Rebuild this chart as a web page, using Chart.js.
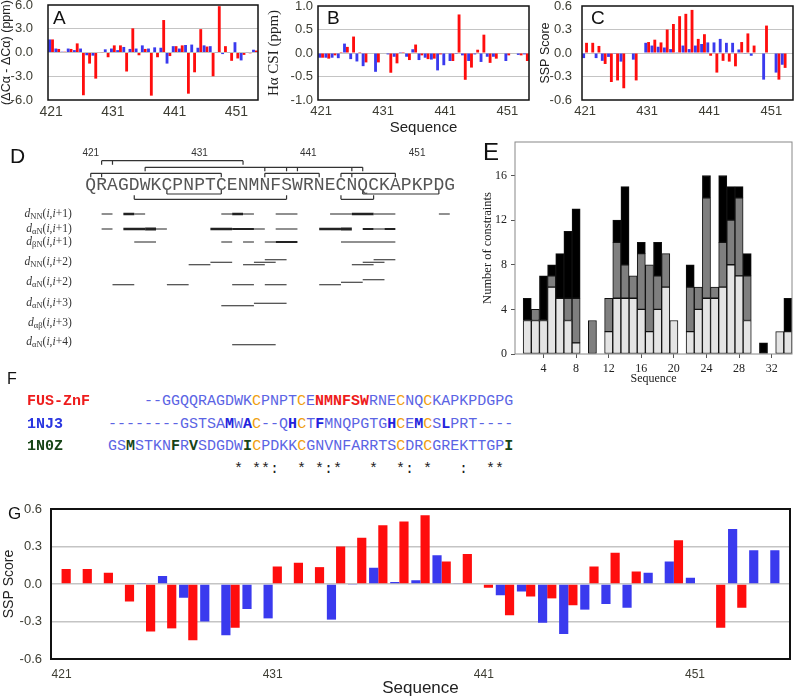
<!DOCTYPE html>
<html>
<head>
<meta charset="utf-8">
<script src="https://cdn.jsdelivr.net/npm/chart.js@4.4.0/dist/chart.umd.min.js"></script>
<style>
body { margin: 0; background: #fff; }
#page { position: relative; width: 795px; height: 699px; overflow: hidden; font-family: Arial, "Liberation Sans", sans-serif; }
canvas { position: absolute; }
.tag { position: absolute; color: #111; line-height: 1; }
.aln { position: absolute; margin: 0; font: 15px "Liberation Mono", "Courier New", monospace; line-height: 22.7px; white-space: pre; }
.seq { color: #5b64e4; }
.c { color: #f0a010; }
.r { color: #ee1c1c; font-weight: bold; }
.b { color: #2222dd; font-weight: bold; }
.g { color: #174417; font-weight: bold; }
</style>
</head>
<body>
<div id="page">
  <canvas id="cA" width="262" height="140" style="left:0;top:0"></canvas>
  <canvas id="cB" width="268" height="140" style="left:265px;top:0"></canvas>
  <canvas id="cC" width="260" height="140" style="left:535px;top:0"></canvas>
  <canvas id="cD" width="480" height="215" style="left:0;top:140px"></canvas>
  <canvas id="cE" width="315" height="260" style="left:480px;top:130px"></canvas>
  <canvas id="cG" width="795" height="199" style="left:0;top:500px"></canvas>

  <div class="tag" style="left:53px;top:8px;font-size:19px">A</div>
  <div class="tag" style="left:327px;top:8px;font-size:19px">B</div>
  <div class="tag" style="left:591px;top:8px;font-size:19px">C</div>
  <div class="tag" style="left:10px;top:145px;font-size:21px">D</div>
  <div class="tag" style="left:483px;top:140px;font-size:24px">E</div>
  <div class="tag" style="left:7px;top:371px;font-size:16px">F</div>
  <div class="tag" style="left:8px;top:505px;font-size:17px">G</div>

<pre class="aln" style="left:27px;top:391px;font-weight:bold"><span style="color:#ee1c1c">FUS-ZnF</span>
<span style="color:#2a36e0">1NJ3</span>
<span style="color:#174417">1N0Z</span></pre>
<pre class="aln seq" style="left:108px;top:391px">    --GGQQRAGDWK<span class="c">C</span>PNPT<span class="c">C</span>E<span class="r">NMNFSW</span>RNE<span class="c">C</span>NQ<span class="c">C</span>KAPKPDGPG
--------GSTSA<span class="b">M</span>W<span class="b">A</span><span class="c">C</span>--Q<span class="b">H</span><span class="c">C</span>T<span class="b">F</span>MNQPGTG<span class="b">H</span><span class="c">C</span>E<span class="b">M</span><span class="c">C</span>S<span class="b">L</span>PRT----
GS<span class="g">M</span>STKN<span class="g">F</span>R<span class="g">V</span>SDGDW<span class="g">I</span><span class="c">C</span>PDKK<span class="c">C</span>GNVNFARRTS<span class="c">C</span>DR<span class="c">C</span>GREKTTGP<span class="g">I</span>
<span style="color:#222">              * **:  * *:*   *  *: *   :  **</span></pre>
</div>

<script>
// residues
var RES_G = Array.from({ length: 35 }, function (_, i) { return String(421 + i); });
var RES_34 = RES_G.slice(0, 34);

// A: secondary CA shifts
var A_BLUE = [1.65, 0.5, 0.1, 0.5, 0.3, 0.5, -0.35, -0.4, 0.0, 0.4, 0.5, 0.3, 0.7, 0.45, 0.5, 0.9, 0.5, 0.65, 0.6, -1.4, 0.8, 0.5, 0.95, 1.0, 0.6, 0.9, 0.8, -0.05, -0.2, 0.05, 1.3, -1.0, 0.05, 0.35];
var A_RED = [1.65, 0.45, 0.1, 0.45, 1.15, -5.4, -1.4, -3.3, -0.05, -0.6, 0.9, 0.9, -2.4, 3.05, -0.35, 0.45, -5.45, -0.6, 4.1, -0.45, 0.8, 0.9, -5.2, -2.5, 2.95, 0.75, -3.0, 5.85, 0.8, -1.05, -0.75, -0.3, -0.1, 0.25];

// B: H alpha CSI
var B_BLUE = [-0.1, -0.1, -0.1, -0.11, 0.2, -0.13, -0.18, -0.28, null, -0.4, null, -0.03, -0.08, 0.02, -0.08, 0.08, -0.15, -0.1, -0.14, -0.37, -0.26, -0.17, -0.02, -0.05, -0.17, -0.03, -0.19, -0.08, -0.08, null, -0.17, null, -0.04, -0.03];
var B_RED = [-0.1, -0.12, -0.05, 0.02, 0.13, 0.35, 0.02, -0.2, null, -0.2, null, -0.42, -0.22, 0.02, -0.15, 0.18, -0.05, -0.13, -0.12, -0.03, null, -0.17, 0.82, -0.57, -0.31, 0.07, 0.39, -0.21, -0.12, null, -0.05, null, -0.05, -0.17];

// C: SSP score (small)
var C_BLUE = [-0.065, null, -0.065, -0.1, -0.05, -0.01, -0.11, null, -0.085, null, 0.13, 0.095, 0.08, 0.07, 0.05, 0.01, 0.095, 0.05, 0.095, 0.115, 0.135, 0.135, 0.18, 0.13, 0.13, 0.045, -0.01, -0.035, null, -0.34, null, -0.25, -0.15, null];
var C_RED = [0.13, 0.13, 0.09, -0.14, -0.37, -0.35, -0.45, null, -0.35, null, 0.14, 0.17, 0.135, 0.30, 0.37, 0.47, 0.50, 0.55, 0.18, 0.24, -0.035, -0.25, -0.10, -0.11, -0.17, 0.14, 0.25, 0.095, null, 0.35, null, -0.34, -0.19, null];

// G: SSP score (large)
var G_BLUE = [null, null, null, null, 0.004, 0.064, -0.11, -0.30, -0.41, -0.20, -0.275, null, null, -0.285, -0.004, 0.13, 0.016, 0.03, 0.23, 0.005, null, -0.09, -0.06, -0.31, -0.40, -0.205, -0.16, -0.19, 0.09, 0.18, 0.05, null, 0.44, 0.27, 0.27];
var G_RED = [0.12, 0.12, 0.09, -0.14, -0.38, -0.355, -0.45, null, -0.35, null, 0.14, 0.17, 0.135, 0.30, 0.37, 0.47, 0.50, 0.55, 0.18, 0.24, -0.03, -0.25, -0.10, -0.115, -0.17, 0.14, 0.25, 0.10, null, 0.35, null, -0.35, -0.19, null, null];

// E: constraints per residue
var E_POS = Array.from({ length: 34 }, function (_, i) { return String(i + 1); });
var E_LIGHT = [0, 3, 3, 3, 6, 5, 3, 1, 0, 0, 0, 2, 5, 5, 5, 4, 2, 4, 6, 3, 0, 2, 4, 5, 5, 6, 8, 7, 3, 0, 0, 0, 2, 2];
var E_GREY = [0, 0, 1, 0, 1, 0, 2, 4, 0, 3, 0, 3, 5, 3, 2, 5, 6, 3, 3, 0, 0, 4, 2, 9, 1, 4, 4, 7, 4, 0, 0, 0, 0, 0];
var E_BLACK = [0, 2, 0, 4, 1, 4, 6, 8, 0, 0, 0, 0, 2, 7, 0, 1, 0, 3, 0, 0, 0, 2, 0, 2, 0, 6, 3, 1, 2, 0, 1, 0, 0, 3];

// D: NOE connectivity diagram
var D_SEQ = 'QRAGDWKCPNPTCENMNFSWRNECNQCKAPKPDG';
var D_START = 421;
var D_NUMS = [421, 431, 441, 451];
var D_UP = [
    { level: 1, res: [422, 423, 435] },
    { level: 2, res: [426, 437, 439, 440, 445, 446] },
    { level: 3, res: [421, 422, 433] },
    { level: 3, res: [437, 442] },
    { level: 3, res: [444, 445, 449] }
];
var D_DOWN = [
    { level: 1, res: [428, 433] },
    { level: 1, res: [446, 453] },
    { level: 2, res: [425, 439] },
    { level: 2, res: [444, 447] }
];
var D_ROW_NAMES = [['NN', '+1'], ['\u03b1N', '+1'], ['\u03b2N', '+1'], ['NN', '+2'], ['\u03b1N', '+2'], ['\u03b1N', '+3'], ['\u03b1\u03b2', '+3'], ['\u03b1N', '+4']];
// [from, to, weight, tier]
var D_SEGS = [
    [[422, 423, 1], [424, 425, 2], [425, 426, 1], [433, 434, 1], [434, 435, 2], [435, 436, 1], [438, 440, 1], [443, 445, 1], [445, 447, 2], [447, 449, 1], [453, 454, 1]],
    [[422, 423, 1], [424, 426, 2], [426, 427, 3], [427, 428, 1], [432, 434, 2], [434, 436, 1.5], [436, 437, 1], [438, 440, 1], [442, 444, 2], [444, 445, 3], [446, 447, 1.5], [447, 448, 1], [448, 449, 1.5]],
    [[425, 427, 1], [433, 434, 1], [435, 436, 1], [437, 438, 1], [438, 440, 1.5], [444, 449, 1]],
    [[430, 432, 1, 0], [432, 434, 1, 1], [435, 437, 1, 0], [436, 438, 1, 1], [437, 439, 1, 2], [445, 447, 1, 0], [446, 448, 1, 1], [447, 449, 1, 2]],
    [[423, 425, 1, 0], [428, 430, 1, 0], [434, 436, 1, 0], [437, 439, 1, 0], [442, 444, 1, 0], [444, 446, 1, 1], [446, 448, 1, 2]],
    [[433, 436, 1, 0], [436, 439, 1, 1]],
    [],
    [[434, 438, 1, 0]]
];
// vertical tracks of the diagram (abstract units)
var D_TRACK = { nums: 2.6, seq: 10.0, up: [4.14, 5.46, 6.66], down: [10.8, 11.86], tick: 0.8,
    rows: [14.8, 17.8, 20.4, 24.4, 28.4, 32.6, 36.6, 40.4], tierBase: 0.55, tierStep: 0.5 };
var LINE_W = { 1: 1.2, 1.5: 1.8, 2: 2.4, 3: 3.2 };

var SANS = 'Arial, "Liberation Sans", sans-serif';
var SERIF = '"Liberation Serif", "Times New Roman", serif';
var TICK_C = '#3d3d33';
var GRID_C = '#c4c4c4';
var BLUE_C = '#3a3aee';
var RED_C = '#ff0d0d';

Chart.defaults.font.family = SANS;
Chart.defaults.color = '#333';

function frame(color, width)
{
    return {
        id: 'frame',
        afterDraw: function(chart) {
            var a = chart.chartArea;
            var ctx = chart.ctx;
            ctx.save();
            ctx.strokeStyle = color;
            ctx.lineWidth = width;
            ctx.strokeRect(a.left, a.top, a.right - a.left, a.bottom - a.top);
            ctx.restore();
        }
    };
}

function fixHeight(h)
{
    return function(s) { s.height = h; s.paddingLeft = 0; s.paddingRight = 0; };
}

function fixWidth(w)
{
    return function(s) { s.width = w; s.paddingTop = 0; s.paddingBottom = 0; };
}

function printSsp(id, o)
{
    new Chart(document.getElementById(id), {
        type: 'bar',
        data: {
            labels: o.labels,
            datasets: [
                { data: o.blue, backgroundColor: BLUE_C, barPercentage: 1, categoryPercentage: o.cat },
                { data: o.red, backgroundColor: RED_C, barPercentage: 1, categoryPercentage: o.cat }
            ]
        },
        options: {
            responsive: false,
            animation: false,
            devicePixelRatio: 1,
            events: [],
            layout: { padding: o.pad },
            plugins: { legend: { display: false }, tooltip: { enabled: false } },
            scales: {
                x: {
                    grid: { display: false, drawTicks: false },
                    border: { display: false },
                    ticks: {
                        autoSkip: false, maxRotation: 0, padding: o.xpad, color: TICK_C,
                        font: { size: o.xfont },
                        callback: function(v, i) { return i % 10 === 0 ? this.getLabelForValue(v) : ''; }
                    },
                    title: o.xtitle ? {
                        display: true, text: 'Sequence', color: '#222',
                        font: { size: o.xtitle.size, lineHeight: 1 },
                        padding: { top: 0, bottom: o.xtitle.pad }
                    } : { display: false },
                    afterFit: fixHeight(o.xh)
                },
                y: {
                    min: o.min,
                    max: o.max,
                    ticks: {
                        stepSize: o.step, padding: o.ypad, color: TICK_C, font: { size: 13 },
                        callback: function(v) { return v.toFixed(1); }
                    },
                    grid: {
                        drawTicks: false,
                        lineWidth: o.gridW,
                        color: function(c) {
                            if (c.tick && Math.abs(Math.abs(c.tick.value) - o.max) < 1e-9) return 'rgba(0,0,0,0)';
                            return GRID_C;
                        }
                    },
                    border: { display: false },
                    title: {
                        display: true, text: o.ytitle.text, color: '#222',
                        font: o.ytitle.font,
                        padding: { top: o.ytitle.pad, bottom: 0 }
                    },
                    afterFit: fixWidth(o.yw)
                }
            }
        },
        plugins: [frame('#111', o.frameW)]
    });
}

printSsp('cA', {
    labels: RES_34, blue: A_BLUE, red: A_RED, min: -6, max: 6, step: 3, cat: 0.92,
    pad: { top: 5, right: 4, left: 0, bottom: 0 }, yw: 48, xh: 40, ypad: 15, xpad: 4, xfont: 14,
    gridW: 1, frameW: 1.5,
    ytitle: { text: '(\u0394C\u03b1 - \u0394C\u03b1) (ppm)', font: { family: SANS, size: 12.5, lineHeight: 1 }, pad: 0 }
});

printSsp('cB', {
    labels: RES_34, blue: B_BLUE, red: B_RED, min: -1, max: 1, step: 0.5, cat: 0.92,
    pad: { top: 6, right: 4, left: 0, bottom: 0 }, yw: 53, xh: 40, ypad: 5, xpad: 4, xfont: 13,
    gridW: 1, frameW: 1.5,
    xtitle: { size: 15, pad: 4.5 },
    ytitle: { text: 'H\u03b1 CSI (ppm)', font: { family: SERIF, size: 15, lineHeight: 1 }, pad: 1.5 }
});

printSsp('cC', {
    labels: RES_34, blue: C_BLUE, red: C_RED, min: -0.6, max: 0.6, step: 0.3, cat: 0.92,
    pad: { top: 6, right: 2, left: 0, bottom: 0 }, yw: 47, xh: 40, ypad: 10, xpad: 4, xfont: 13,
    gridW: 1, frameW: 1.5,
    ytitle: { text: 'SSP Score', font: { family: SANS, size: 12.5, lineHeight: 1 }, pad: 4 }
});

printSsp('cG', {
    labels: RES_G, blue: G_BLUE, red: G_RED, min: -0.6, max: 0.6, step: 0.3, cat: 0.87,
    pad: { top: 9, right: 5, left: 0, bottom: 0 }, yw: 51, xh: 40, ypad: 9, xpad: 8, xfont: 12,
    gridW: 1.5, frameW: 2,
    xtitle: { size: 17, pad: 2.5 },
    ytitle: { text: 'SSP Score', font: { family: SANS, size: 14, lineHeight: 1 }, pad: 2 }
});

// E: stacked constraint counts
function nz(v) { return v === 0 ? null : v; }

new Chart(document.getElementById('cE'), {
    type: 'bar',
    data: {
        labels: E_POS,
        datasets: [
            { data: E_LIGHT.map(nz), backgroundColor: '#e4e4e4' },
            { data: E_GREY.map(nz), backgroundColor: '#7f7f7f' },
            { data: E_BLACK.map(nz), backgroundColor: '#000000' }
        ]
    },
    options: {
        responsive: false,
        animation: false,
        devicePixelRatio: 1,
        events: [],
        layout: { padding: { top: 12, right: 3, left: 0, bottom: 0 } },
        datasets: { bar: { barPercentage: 1, categoryPercentage: 1, borderColor: '#111', borderWidth: 1, borderSkipped: false } },
        plugins: { legend: { display: false }, tooltip: { enabled: false } },
        scales: {
            x: {
                stacked: true,
                grid: {
                    drawOnChartArea: false, offset: false, tickLength: 4,
                    tickColor: function(c) { return (c.index + 1) % 4 === 0 ? '#555' : 'rgba(0,0,0,0)'; }
                },
                border: { display: false },
                ticks: {
                    autoSkip: false, maxRotation: 0, padding: 4, color: '#222',
                    font: { family: SERIF, size: 12 },
                    callback: function(v, i) { return (i + 1) % 4 === 0 ? E_POS[i] : ''; }
                },
                title: { display: true, text: 'Sequence', color: '#222', font: { family: SERIF, size: 12, lineHeight: 1 }, padding: { top: 0, bottom: 5 } },
                afterFit: fixHeight(36)
            },
            y: {
                stacked: true,
                min: 0,
                max: 19,
                ticks: { stepSize: 4, includeBounds: false, padding: 4, color: '#222', font: { family: SERIF, size: 12 } },
                grid: { drawOnChartArea: false, tickLength: 4, tickColor: '#555' },
                border: { display: false },
                title: { display: true, text: 'Number of constraints', color: '#222', font: { family: SERIF, size: 12.5, lineHeight: 1 }, padding: { top: 1.5, bottom: 0 } },
                afterFit: fixWidth(35)
            }
        }
    },
    plugins: [frame('#888', 1)]
});

// D: connectivity diagram
function getDataForDiagram()
{
    var sets = [];
    var br = [];

    function addBrackets(list, levels, dir) {
        list.forEach(function(b) {
            var yl = levels[b.level - 1];
            var a = Math.min.apply(null, b.res);
            var z = Math.max.apply(null, b.res);
            br.push({ x: a, y: yl }, { x: z, y: yl }, { x: z, y: null });
            b.res.forEach(function(r) {
                br.push({ x: r, y: yl }, { x: r, y: yl + dir * D_TRACK.tick }, { x: r, y: null });
            });
        });
    }
    addBrackets(D_UP, D_TRACK.up, 1);
    addBrackets(D_DOWN, D_TRACK.down, -1);
    sets.push({ data: br, borderColor: '#333', borderWidth: 1.2 });

    var byWeight = {};
    D_SEGS.forEach(function(segs, k) {
        segs.forEach(function(s) {
            var yy = D_TRACK.rows[k] + (s.length > 3 ? D_TRACK.tierBase - s[3] * D_TRACK.tierStep : 0);
            if (!byWeight[s[2]]) byWeight[s[2]] = [];
            byWeight[s[2]].push({ x: s[0], y: yy }, { x: s[1], y: yy }, { x: s[1], y: null });
        });
    });
    for (var w in byWeight) {
        sets.push({ data: byWeight[w], borderColor: '#222', borderWidth: LINE_W[w] });
    }

    sets.forEach(function(s) {
        s.showLine = true;
        s.pointRadius = 0;
        s.fill = false;
        s.spanGaps = false;
        s.borderCapStyle = 'butt';
    });
    return sets;
}

var diagramText = {
    id: 'diagramText',
    afterDatasetsDraw: function(chart) {
        var ctx = chart.ctx;
        var x = chart.scales.x;
        var y = chart.scales.y;
        ctx.save();

        ctx.fillStyle = '#555';
        ctx.font = '18px "Liberation Mono", "Courier New", monospace';
        ctx.textAlign = 'center';
        ctx.textBaseline = 'alphabetic';
        for (var i = 0; i < D_SEQ.length; i++) {
            ctx.fillText(D_SEQ[i], x.getPixelForValue(D_START + i), y.getPixelForValue(D_TRACK.seq));
        }

        ctx.fillStyle = '#333';
        ctx.font = '10px ' + SANS;
        ctx.textBaseline = 'middle';
        D_NUMS.forEach(function(n) {
            ctx.fillText(String(n), x.getPixelForValue(n), y.getPixelForValue(D_TRACK.nums));
        });

        var right = x.getPixelForValue(D_START) - 19;
        var it = 'italic 11.5px ' + SERIF;
        var rm = '11.5px ' + SERIF;
        var sb = '8.5px ' + SERIF;
        ctx.textAlign = 'left';
        D_ROW_NAMES.forEach(function(r, k) {
            var parts = [['d', it, 0], [r[0], sb, 3], ['(', rm, 0], ['i', it, 0], [',', rm, 0], ['i', it, 0], [r[1] + ')', rm, 0]];
            var w = 0;
            parts.forEach(function(p) { ctx.font = p[1]; w += ctx.measureText(p[0]).width; });
            var cx = right - w;
            var cy = y.getPixelForValue(D_TRACK.rows[k]);
            parts.forEach(function(p) {
                ctx.font = p[1];
                ctx.fillText(p[0], cx, cy + p[2]);
                cx += ctx.measureText(p[0]).width;
            });
        });
        ctx.restore();
    }
};

new Chart(document.getElementById('cD'), {
    type: 'scatter',
    data: { datasets: getDataForDiagram() },
    options: {
        responsive: false,
        animation: false,
        devicePixelRatio: 1,
        events: [],
        layout: { padding: 0 },
        plugins: { legend: { display: false }, tooltip: { enabled: false } },
        scales: {
            x: { type: 'linear', min: 412.66, max: 456.78, display: false },
            y: { type: 'linear', min: 0, max: 43, reverse: true, display: false }
        }
    },
    plugins: [diagramText]
});
</script>
</body>
</html>
